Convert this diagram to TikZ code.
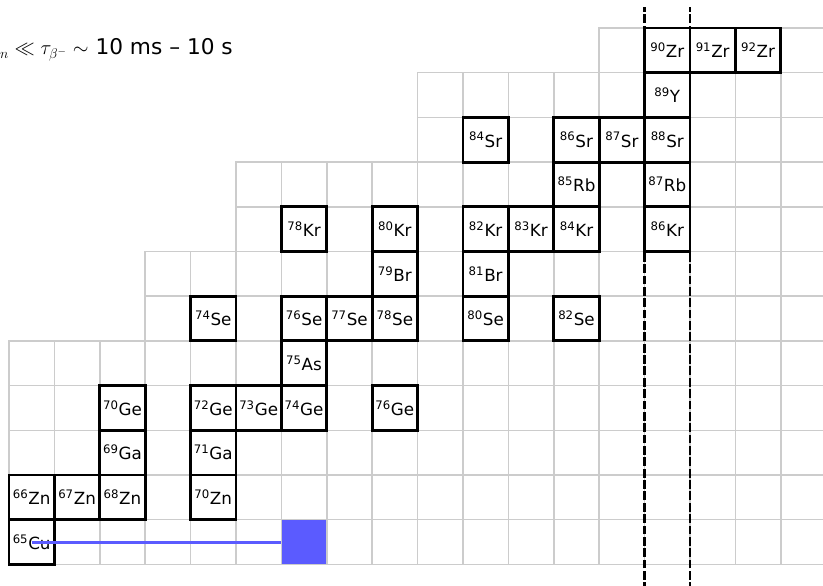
\documentclass[tikz,border=0pt]{standalone}
\usepackage{fontspec}
\setmainfont{DejaVu Sans}
\usepackage{amsmath}
\usepackage{tikz}
\definecolor{capblue}{RGB}{91,91,255}
\newcommand{\iso}[2]{\textsuperscript{#1}#2}

\begin{document}
\begin{tikzpicture}[
    x=1.362cm, y=1.341cm,
    cell/.style={draw=black!20, line width=1.3pt},
    iso/.style={draw, line width=2.5pt, minimum width=1.362cm, minimum height=1.341cm,
                inner sep=0pt, font=\fontsize{14.3}{16}\selectfont},
    magic/.style={draw, line width=2.5pt, dash pattern=on 7.5pt off 2.2pt},
    capline/.style={draw=capblue, line width=2.6pt},
  ]
    \useasboundingbox (-0.198,-0.470) rectangle (17.930,12.626);
    \clip (-0.198,-0.470) rectangle (17.930,12.626);

    % capture target
    \node[fill=capblue, minimum width=1.362cm, minimum height=1.341cm, inner sep=0pt] (Cu71) at (6.5,0.5) {};

    % chart grid, one row per element
    \foreach \z/\nmin in {0/0, 1/0, 2/0, 3/0, 4/0, 5/3, 6/3, 7/5, 8/5, 9/9, 10/9, 11/13}
      \foreach \n in {\nmin,...,17} \draw[cell] (\n,\z) rectangle ++(1,1);

    % stable isotopes
    \foreach \n/\z/\a/\el in {0/0/65/Cu,
        0/1/66/Zn, 1/1/67/Zn, 2/1/68/Zn, 4/1/70/Zn,
        2/2/69/Ga, 4/2/71/Ga,
        2/3/70/Ge, 4/3/72/Ge, 5/3/73/Ge, 6/3/74/Ge, 8/3/76/Ge,
        6/4/75/As,
        4/5/74/Se, 6/5/76/Se, 7/5/77/Se, 8/5/78/Se, 10/5/80/Se, 12/5/82/Se,
        8/6/79/Br, 10/6/81/Br,
        6/7/78/Kr, 8/7/80/Kr, 10/7/82/Kr, 11/7/83/Kr, 12/7/84/Kr, 14/7/86/Kr,
        12/8/85/Rb, 14/8/87/Rb,
        10/9/84/Sr, 12/9/86/Sr, 13/9/87/Sr, 14/9/88/Sr,
        14/10/89/Y,
        14/11/90/Zr, 15/11/91/Zr, 16/11/92/Zr}
      \node[iso] (\el\a) at (\n+0.5,\z+0.5) {\iso{\a}{\el}};

    \draw[capline] (Cu65.center) -- (Cu71.west);

    % magic numbers N = 50
    \draw[magic] (14,-0.6) -- (14,12.47);
    \draw[magic] (15,-0.6) -- (15,12.47);

    \node[anchor=base west, inner sep=0pt, font=\fontsize{18.5}{21}\selectfont] (tscale) at (-0.198,11.396)
      {$_n \ll \tau_{\beta^-} \sim$ 10 ms -- 10 s};
  \end{tikzpicture}
\end{document}
